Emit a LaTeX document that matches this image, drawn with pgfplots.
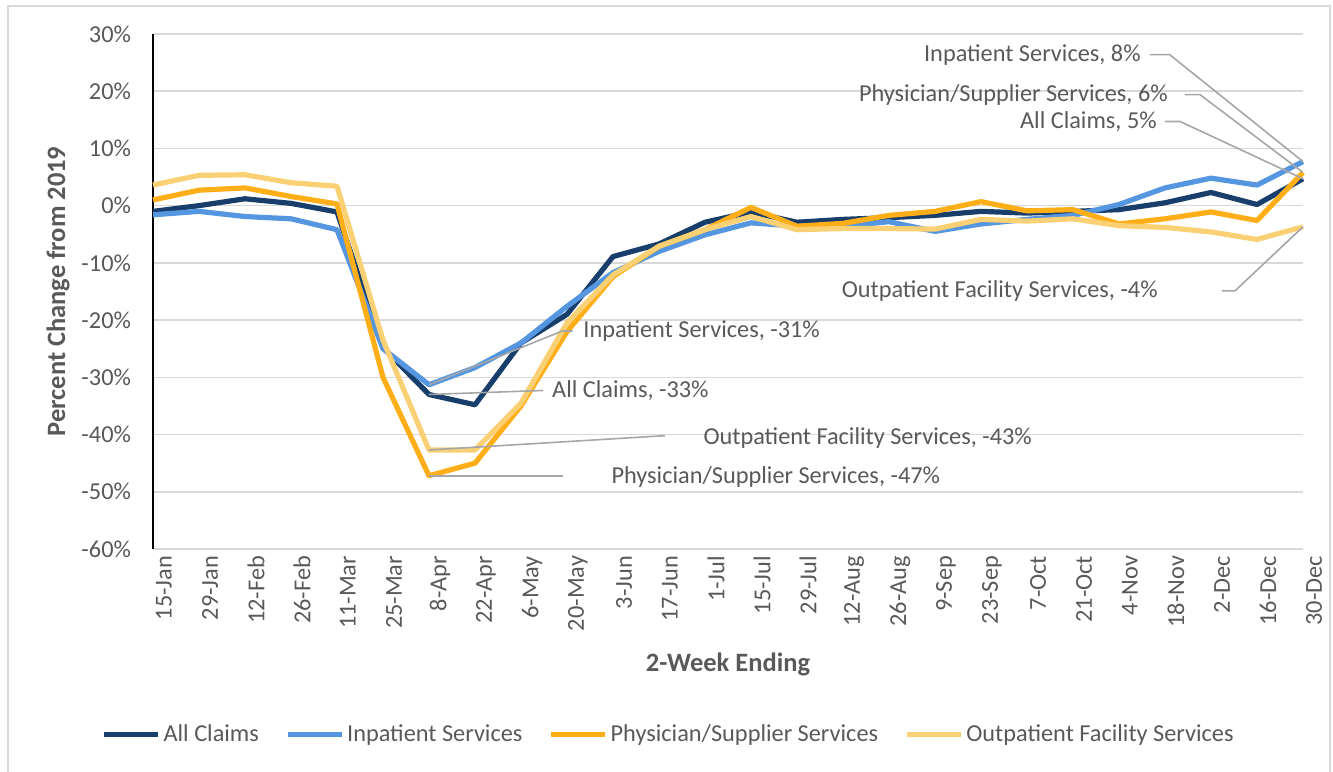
\documentclass[border=0pt]{standalone}
\usepackage{fontspec}
\setmainfont{Carlito}
\usepackage{pgfplots}
\usepackage{pgfplotstable}
\pgfplotsset{compat=1.18}

\definecolor{allc}{RGB}{24,62,108}
\definecolor{inpc}{RGB}{84,150,224}
\definecolor{phyc}{RGB}{255,174,24}
\definecolor{outc}{RGB}{250,208,116}
\definecolor{txt}{RGB}{89,89,89}
\definecolor{gridc}{RGB}{217,217,217}
\definecolor{leadc}{RGB}{166,166,166}

% percent change from 2019, per 2-week period
\pgfplotstableread{
i   all    inp    phy    out
0   -1.0   -1.6   1.0    3.6
1   0.0    -1.0   2.7    5.3
2   1.2    -1.9   3.1    5.4
3   0.4    -2.3   1.6    4.0
4   -1.1   -4.2   0.3    3.4
5   -24.8  -25.0  -30.0  -23.5
6   -33.0  -31.3  -47.2  -42.7
7   -34.8  -28.3  -45.0  -42.7
8   -24.0  -24.0  -35.0  -34.5
9   -19.0  -17.6  -22.0  -20.5
10  -8.9   -11.7  -12.4  -12.1
11  -6.7   -8.0   -7.1   -7.1
12  -2.9   -5.1   -4.2   -4.2
13  -1.1   -3.0   -0.3   -1.9
14  -2.9   -3.6   -3.6   -4.2
15  -2.4   -3.6   -3.1   -4.0
16  -2.1   -2.8   -1.7   -4.0
17  -1.7   -4.5   -1.0   -4.1
18  -1.0   -3.2   0.7    -2.4
19  -1.3   -2.4   -0.9   -2.7
20  -1.0   -1.7   -0.7   -2.3
21  -0.7   0.2    -3.2   -3.5
22  0.5    3.1    -2.3   -3.8
23  2.3    4.8    -1.1   -4.6
24  0.2    3.6    -2.6   -5.9
25  4.7    7.7    5.8    -3.7
}\datatable

\begin{document}
\begin{tikzpicture}
\begin{axis}[
  width=575bp, height=257.5bp, scale only axis,
  xmin=0, xmax=25, ymin=-60, ymax=30,
  axis x line*=bottom, axis y line*=left,
  x axis line style={draw=none},
  y axis line style={black, line width=0.9bp, -},
  major tick length=0,
  xtick={0,...,25},
  xticklabels={15-Jan,29-Jan,12-Feb,26-Feb,11-Mar,25-Mar,8-Apr,22-Apr,6-May,20-May,3-Jun,17-Jun,1-Jul,15-Jul,29-Jul,12-Aug,26-Aug,9-Sep,23-Sep,7-Oct,21-Oct,4-Nov,18-Nov,2-Dec,16-Dec,30-Dec},
  xticklabel style={rotate=90, anchor=east, yshift=-5.5bp},
  ytick={-60,-50,...,30},
  yticklabel={\pgfmathprintnumber{\tick}\%},
  yticklabel style={xshift=-7.5bp},
  /pgf/number format/assume math mode=true,
  every tick label/.append style={font=\fontsize{12.2}{14}\selectfont, text=txt},
  ymajorgrids, major grid style={draw=gridc, line width=0.75bp},
  xlabel={2-Week Ending}, ylabel={Percent Change from 2019},
  label style={font=\fontsize{13.3}{15}\selectfont\bfseries, text=txt},
  xlabel style={at={(rel axis cs:0.5,-0.2233)}, anchor=center},
  ylabel style={at={(rel axis cs:-0.0826,0.5)}, anchor=center},
  clip=false,
  legend columns=4,
  legend style={at={(rel axis cs:0.4487,-0.361)}, anchor=center, draw=none, fill=none,
    font=\fontsize{12.2}{14}\selectfont, text=txt,
    nodes={inner sep=1.5bp},
    /tikz/every even column/.append style={column sep=11.5bp}},
  legend image code/.code={\draw (0bp,0bp) -- (27bp,0bp);},
  every axis plot/.append style={line width=2.6bp, line join=round},
]
\addplot[allc] table[x=i, y=all] {\datatable};
\addlegendentry{All Claims}
\addplot[inpc] table[x=i, y=inp] {\datatable};
\addlegendentry{Inpatient Services}
\addplot[phyc] table[x=i, y=phy] {\datatable};
\addlegendentry{Physician/Supplier Services}
\addplot[outc] table[x=i, y=out] {\datatable};
\addlegendentry{Outpatient Facility Services}

% leader lines
\begin{scope}[leadc, line width=0.8bp]
\draw (axis cs:25,7.7) -- (axis cs:22.1,26.4) -- (axis cs:21.67,26.4);
\draw (axis cs:25,5.8) -- (axis cs:22.76,19.4) -- (axis cs:22.43,19.4);
\draw (axis cs:25,4.7) -- (axis cs:22.33,14.7) -- (axis cs:22.0,14.7);
\draw (axis cs:25,-3.7) -- (axis cs:23.52,-14.9) -- (axis cs:23.24,-14.9);
\draw (axis cs:6,-31.3) -- (axis cs:8.9,-21.9) -- (axis cs:9.12,-21.9);
\draw (axis cs:6,-33) -- (axis cs:8.48,-32.3);
\draw (axis cs:6,-42.7) -- (axis cs:11.13,-40.2);
\draw (axis cs:6,-47.2) -- (axis cs:8.91,-47.2);
\end{scope}

% data labels
\begin{scope}[every node/.style={inner sep=0, text=txt, font=\fontsize{12.2}{14}\selectfont}]
\node[anchor=east] at (axis cs:21.48,26.4) {Inpatient Services, 8\%};
\node[anchor=east] at (axis cs:22.07,19.4) {Physician/Supplier Services, 6\%};
\node[anchor=east] at (axis cs:21.83,14.7) {All Claims, 5\%};
\node[anchor=east] at (axis cs:21.85,-14.9) {Outpatient Facility Services, -4\%};
\node[anchor=west] at (axis cs:9.35,-21.9) {Inpatient Services, -31\%};
\node[anchor=west] at (axis cs:8.67,-32.3) {All Claims, -33\%};
\node[anchor=west] at (axis cs:11.96,-40.6) {Outpatient Facility Services, -43\%};
\node[anchor=west] at (axis cs:9.96,-47.4) {Physician/Supplier Services, -47\%};
\end{scope}

% chart area frame and page extent
\draw[gridc, line width=0.9bp] (rel axis cs:-0.1261,-0.45) -- (rel axis cs:-0.1261,1.0550)
  -- (rel axis cs:1.0235,1.0550) -- (rel axis cs:1.0235,-0.45);
\coordinate (bbA) at (rel axis cs:-0.13304,-0.43301);
\coordinate (bbB) at (rel axis cs:1.02609,1.06602);
\end{axis}
\pgfresetboundingbox
\useasboundingbox (bbA) rectangle (bbB);
\end{tikzpicture}
\end{document}
